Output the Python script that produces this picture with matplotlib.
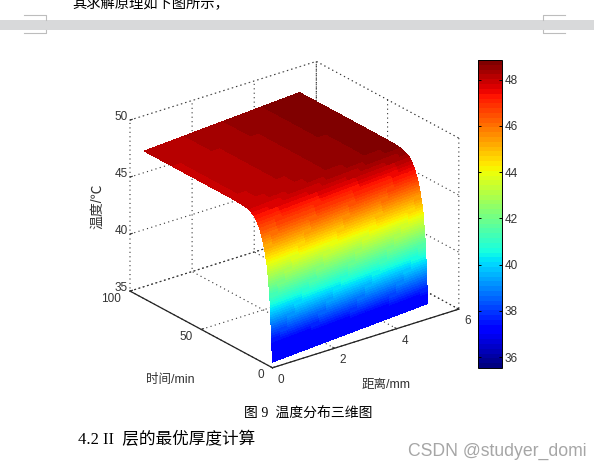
import numpy as np
import matplotlib
matplotlib.use('Agg')
import matplotlib.pyplot as plt
from matplotlib.colors import Normalize
from matplotlib.cm import ScalarMappable

# 时间方向的温度 (距离=0 处)
time_min = [0, .06, .12, .19, .25, .31, .37, .44, .5, .56, .62, .69, .75, .8, .86, .93, 1.0, 1.06, 1.12, 1.18,
            1.25, 1.31, 1.38, 1.44, 1.5, 1.57, 1.65, 1.76, 1.88, 2.0, 2.12, 2.25, 2.37, 2.5, 2.63, 2.76, 2.9,
            3.03, 3.17, 3.3, 3.43, 3.6, 3.85, 4.1, 4.4, 4.7, 5.0, 5.25, 5.5, 5.85, 6.2, 6.6, 7, 7.5, 8, 8.5,
            9, 9.8, 10.6, 11.5, 12.7, 14.5, 16.5, 19, 23, 30, 50, 70, 90]
temp_front = [35.5, 35.6, 35.8, 36.0, 36.2, 36.4, 36.6, 36.8, 37.0, 37.2, 37.4, 37.6, 37.8, 38.0, 38.2, 38.4,
              38.6, 38.8, 39.0, 39.2, 39.4, 39.6, 39.8, 40.0, 40.2, 40.4, 40.6, 40.8, 41.0, 41.2, 41.4, 41.6,
              41.8, 42.0, 42.2, 42.4, 42.6, 42.8, 43.0, 43.2, 43.4, 43.6, 43.8, 44.0, 44.2, 44.4, 44.6, 44.8,
              45.0, 45.2, 45.4, 45.6, 45.8, 46.0, 46.2, 46.4, 46.6, 46.8, 47.0, 47.2, 47.45, 47.6, 47.75,
              47.85, 47.9, 47.93, 47.94, 47.95, 47.95]
# 距离方向的温升
dist_mm = [0, 0.25, 0.5, 0.75, 1, 1.25, 1.5, 1.75, 2, 2.25, 2.5, 2.75, 3, 3.25, 3.5, 3.75, 4, 4.25, 4.5, 4.75, 5]
temp_rise = [0, 0.04, 0.085, 0.13, 0.17, 0.21, 0.255, 0.3, 0.34, 0.38, 0.425, 0.47, 0.51, 0.55, 0.595, 0.64, 0.68, 0.72, 0.765, 0.81, 0.85]

x_ticks = [0, 2, 4, 6]
t_ticks = [0, 50, 100]
z_ticks = [35, 40, 45, 50]
cbar_ticks = [36, 38, 40, 42, 44, 46, 48]
cbar_min, cbar_max = 35.53, 48.85
surf_min, surf_max = 35.3, 48.79
blue_floor = 37.0

plt.rcParams['font.family'] = ['Liberation Sans', 'Noto Sans CJK SC']
plt.rcParams['grid.linestyle'] = (0, (1, 3))
plt.rcParams['grid.linewidth'] = 0.8
plt.rcParams['grid.color'] = '#333333'

W, H = 594, 470
fig = plt.figure(figsize=(W / 100, H / 100), dpi=100, facecolor='white')

# 页面背景, 像素坐标
bg = fig.add_axes([0, 0, 1, 1])
bg.set_xlim(0, W)
bg.set_ylim(H, 0)
bg.axis('off')
bg.axhspan(20, 30, color='#d8d9da', lw=0)
for x0, x1 in [(24, 46), (565, 543)]:
    bg.plot([x0, x1, x1], [15, 15, 20], color='#bdbdbd', lw=0.8)
    bg.plot([x0, x1, x1], [33, 33, 30], color='#bdbdbd', lw=0.8)
serif = ['Liberation Serif', 'Noto Sans CJK SC']
bg.text(72, 3, '其求解原理如下图所示，', fontsize=10.3, family=serif, va='center', color='black')
bg.text(308, 413, '图 9  温度分布三维图', fontsize=10, family=serif, va='center', ha='center', color='black')
bg.text(78, 440, '4.2 II  层的最优厚度计算', fontsize=12, family=serif, va='center', color='black')
bg.text(408, 451, 'CSDN @studyer_domi', fontsize=12.7, va='center', color='#a6a6a6')

# 三维曲面
side = 400
ax = fig.add_axes([(289 - side / 2) / W, (H - 220 - side / 2) / H, side / W, side / H], projection='3d')
ax.set_proj_type('ortho')
ax.view_init(elev=24.3, azim=-127.4)
ax.set_box_aspect((1, 1, 0.8), zoom=0.925)
ax.patch.set_alpha(0)

X, T = np.meshgrid(dist_mm, time_min)
Z = np.array(temp_front)[:, None] + np.array(temp_rise)[None, :]
jet = plt.get_cmap('jet', 64)
colors = jet(Normalize(surf_min, surf_max)(np.maximum(Z, blue_floor)))
ax.plot_surface(X, T, Z, facecolors=colors, rcount=Z.shape[0], ccount=Z.shape[1],
                shade=False, linewidth=0, antialiased=False)

ax.set_xlim(0, 6)
ax.set_ylim(0, 100)
ax.set_zlim(35, 50)
ax.set_xticks(x_ticks)
ax.set_yticks(t_ticks)
ax.set_zticks(z_ticks)
for axis in (ax.xaxis, ax.yaxis, ax.zaxis):
    axis.pane.set_facecolor('white')
    axis.pane.set_edgecolor('#333333')
    axis.pane.set_linestyle((0, (1, 3)))
    axis.pane.set_linewidth(0.8)
    axis._axinfo['tick']['inward_factor'] = 0.0
    axis._axinfo['tick']['outward_factor'] = 0.15
    axis.line.set_color('#222222')
    axis.line.set_linewidth(0.9)
ax.zaxis.line.set_visible(False)
ax.tick_params(labelsize=8.5, labelcolor='#333333', color='#333333')
ax.tick_params(axis='x', pad=1)
ax.tick_params(axis='y', pad=-1)
ax.tick_params(axis='z', pad=-4)
for lbl in ax.get_xticklabels():
    lbl.set_va('baseline')
for lbl in ax.get_yticklabels():
    lbl.set_va('baseline')
    lbl.set_ha('right')
for lbl in ax.get_zticklabels():
    lbl.set_va('baseline')

bg.text(170, 380, '时间/min', fontsize=9, va='center', ha='center', color='#333333')
bg.text(386, 385, '距离/mm', fontsize=9, va='center', ha='center', color='#333333')
bg.text(97, 206, '温度/℃', fontsize=10, va='center', ha='center', rotation=90, color='#333333')

# 颜色条
cax = fig.add_axes([478 / W, (H - 368) / H, 24 / W, 308 / H])
sm = ScalarMappable(norm=Normalize(cbar_min, cbar_max), cmap=jet)
cb = fig.colorbar(sm, cax=cax)
cb.set_ticks(cbar_ticks)
cb.ax.tick_params(direction='in', length=2.5, width=0.7, left=True, right=True, labelsize=8.5, labelcolor='#333333', pad=2)
cb.outline.set_linewidth(0.7)

fig.savefig('out.png', dpi=100)
